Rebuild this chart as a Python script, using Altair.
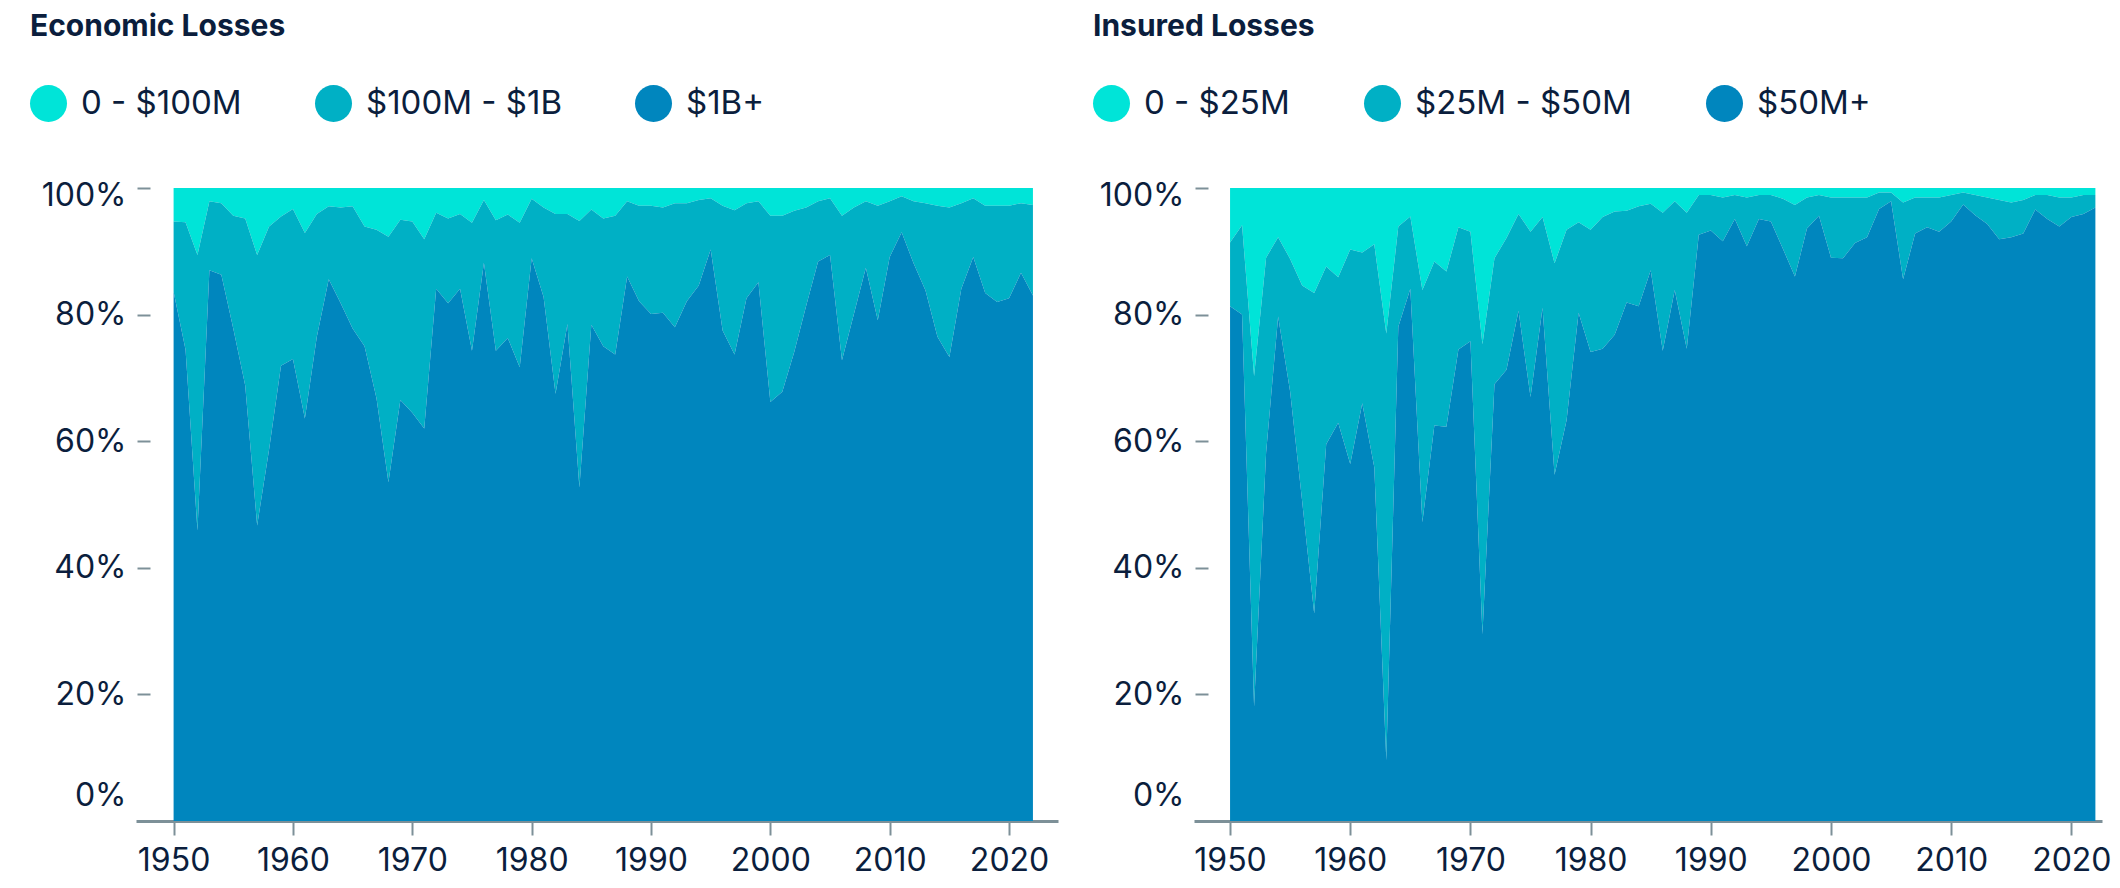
import altair as alt
import pandas as pd

years = list(range(1950, 2023))

# Economic losses: share of events (%) by loss band
econ_bands = ["0 - $100M", "$100M - $1B", "$1B+"]
econ_1b_plus = [83.6, 74.5, 45.9, 87.0, 86.3, 77.8, 68.8, 46.7, 58.7, 71.9,
                73.0, 63.6, 76.5, 85.6, 81.8, 77.8, 75.0, 66.8, 53.5, 66.5,
                64.5, 62.0, 84.1, 81.8, 84.1, 74.3, 88.2, 74.3, 76.3, 71.7,
                88.9, 82.8, 67.5, 78.5, 52.7, 78.4, 75.0, 73.7, 86.0, 82.1,
                80.1, 80.3, 78.0, 82.1, 84.6, 90.3, 77.5, 73.7, 82.6, 85.1,
                66.2, 67.8, 74.1, 81.4, 88.4, 89.4, 72.8, 80.1, 87.4, 79.1,
                89.1, 93.0, 88.1, 83.8, 76.5, 73.3, 84.1, 89.1, 83.4, 82.0,
                82.6, 86.6, 83.0]
econ_100m_1b = [11.1, 20.1, 43.5, 10.9, 11.3, 17.8, 26.4, 42.7, 35.2, 23.6,
                23.7, 29.3, 19.4, 11.5, 15.1, 19.3, 18.9, 26.6, 38.8, 28.5,
                30.2, 29.9, 12.0, 13.4, 11.8, 20.2, 9.9, 20.6, 19.5, 22.8,
                9.4, 14.1, 28.4, 17.4, 42.1, 18.2, 20.2, 21.9, 11.9, 15.1,
                17.1, 16.6, 19.6, 15.5, 13.5, 8.1, 19.7, 22.8, 15.0, 12.8,
                29.4, 27.8, 22.3, 15.5, 9.5, 9.0, 22.8, 16.8, 10.5, 18.1,
                8.8, 5.7, 9.8, 13.8, 20.7, 23.6, 13.5, 9.3, 13.8, 15.2,
                14.6, 11.0, 14.3]
econ_0_100m = [5.3, 5.4, 10.6, 2.1, 2.4, 4.4, 4.8, 10.6, 6.1, 4.5,
               3.3, 7.1, 4.1, 2.9, 3.1, 2.9, 6.1, 6.6, 7.7, 5.0,
               5.3, 8.1, 3.9, 4.8, 4.1, 5.5, 1.9, 5.1, 4.2, 5.5,
               1.7, 3.1, 4.1, 4.1, 5.2, 3.4, 4.8, 4.4, 2.1, 2.8,
               2.8, 3.1, 2.4, 2.4, 1.9, 1.6, 2.8, 3.5, 2.4, 2.1,
               4.4, 4.4, 3.6, 3.1, 2.1, 1.6, 4.4, 3.1, 2.1, 2.8,
               2.1, 1.3, 2.1, 2.4, 2.8, 3.1, 2.4, 1.6, 2.8, 2.8,
               2.8, 2.4, 2.7]

# Insured losses: share of events (%) by loss band
ins_bands = ["0 - $25M", "$25M - $50M", "$50M+"]
ins_50m_plus = [81.3, 80.0, 18.1, 58.2, 79.7, 67.8, 50.5, 32.8, 59.5, 62.9,
                56.4, 66.0, 55.9, 9.6, 78.1, 84.1, 47.2, 62.5, 62.3, 74.5,
                75.8, 29.5, 69.0, 71.3, 80.6, 67.0, 81.1, 54.7, 63.3, 80.3,
                74.1, 74.6, 76.8, 81.9, 81.3, 87.0, 74.3, 83.9, 74.6, 92.6,
                93.3, 91.6, 95.1, 90.8, 95.1, 94.7, 90.4, 86.0, 93.6, 95.6,
                89.0, 88.9, 91.3, 92.2, 96.7, 97.9, 85.6, 92.8, 93.8, 93.1,
                94.7, 97.4, 95.7, 94.3, 91.9, 92.2, 92.8, 96.6, 95.1, 93.9,
                95.4, 95.9, 96.9]
ins_25m_50m = [10.1, 14.1, 52.2, 30.8, 12.5, 21.0, 34.1, 50.6, 28.1, 23.0,
               33.9, 23.8, 35.2, 67.4, 15.8, 11.4, 36.7, 25.9, 24.5, 19.3,
               17.3, 45.8, 19.9, 20.8, 15.3, 26.1, 14.3, 33.4, 30.1, 14.3,
               19.3, 20.8, 19.5, 14.5, 15.8, 10.5, 21.8, 14.0, 21.5, 6.3,
               5.6, 6.9, 3.8, 7.7, 3.8, 4.2, 7.9, 11.3, 4.9, 3.3,
               9.5, 9.6, 7.2, 6.3, 2.6, 1.4, 12.1, 5.7, 4.7, 5.4,
               4.2, 1.9, 3.2, 4.2, 6.2, 5.5, 5.3, 2.3, 3.8, 4.6,
               3.1, 3.0, 2.0]
ins_0_25m = [8.6, 5.9, 29.7, 11.0, 7.8, 11.2, 15.4, 16.6, 12.4, 14.1,
             9.7, 10.2, 8.9, 23.0, 6.1, 4.5, 16.1, 11.6, 13.2, 6.2,
             6.9, 24.7, 11.1, 7.9, 4.1, 6.9, 4.6, 11.9, 6.6, 5.4,
             6.6, 4.6, 3.7, 3.6, 2.9, 2.5, 3.9, 2.1, 3.9, 1.1,
             1.1, 1.5, 1.1, 1.5, 1.1, 1.1, 1.7, 2.7, 1.5, 1.1,
             1.5, 1.5, 1.5, 1.5, 0.7, 0.7, 2.3, 1.5, 1.5, 1.5,
             1.1, 0.7, 1.1, 1.5, 1.9, 2.3, 1.9, 1.1, 1.1, 1.5,
             1.5, 1.1, 1.1]

colors = ["#00E4D8", "#00B0C5", "#0086BE"]
year_ticks = [1950, 1960, 1970, 1980, 1990, 2000, 2010, 2020]
pct_ticks = [0, 0.2, 0.4, 0.6, 0.8, 1.0]

FONT = "Inter"
INK = "#0B1E3D"
AXIS_GREY = "#7D9098"


def make_df(bands, small, mid, big):
    rows = []
    for i, yr in enumerate(years):
        rows.append({"year": yr, "band": bands[0], "share": small[i], "order": 2})
        rows.append({"year": yr, "band": bands[1], "share": mid[i], "order": 1})
        rows.append({"year": yr, "band": bands[2], "share": big[i], "order": 0})
    return pd.DataFrame(rows)


def panel(df, bands, title, width, xdomain, legend_x, col_pad):
    return alt.Chart(df).mark_area(interpolate="linear", opacity=1).encode(
        x=alt.X("year:Q",
                scale=alt.Scale(domain=xdomain, nice=False, zero=False),
                axis=alt.Axis(values=year_ticks, format="d", title=None, grid=False,
                              domainColor=AXIS_GREY, domainWidth=3,
                              tickColor=AXIS_GREY, tickWidth=2, tickSize=14,
                              labelFont=FONT, labelFontSize=32, labelColor=INK,
                              labelPadding=10, labelFlush=False)),
        y=alt.Y("share:Q", stack="normalize",
                scale=alt.Scale(domain=[0, 1], nice=False),
                axis=alt.Axis(values=pct_ticks, format=".0%", title=None, grid=False,
                              domain=False, tickColor=AXIS_GREY, tickWidth=2,
                              tickSize=13, offset=-14,
                              labelFont=FONT, labelFontSize=32, labelColor=INK,
                              labelPadding=11,
                              labelOffset={"condition": [
                                  {"test": "datum.value === 0", "value": -26},
                                  {"test": "datum.value === 1", "value": 7}],
                                  "value": 0})),
        color=alt.Color("band:N",
                        scale=alt.Scale(domain=bands, range=colors),
                        legend=alt.Legend(orient="none", legendX=legend_x, legendY=-103,
                                          direction="horizontal", title=None,
                                          symbolType="circle", symbolSize=1369,
                                          symbolStrokeWidth=0, symbolOpacity=1,
                                          labelFont=FONT, labelFontSize=33,
                                          labelColor=INK, labelOffset=14,
                                          labelLimit=600,
                                          columnPadding=col_pad)),
        order=alt.Order("order:Q", sort="ascending"),
    ).properties(
        width=width, height=633,
        title=alt.TitleParams(title, anchor="start", font=FONT, fontSize=30,
                              fontWeight="bold", color=INK, offset=43),
    )


left = panel(make_df(econ_bands, econ_0_100m, econ_100m_1b, econ_1b_plus),
             econ_bands, "Economic Losses", 922, [1946.85, 2024.1], -106, 73)
right = panel(make_df(ins_bands, ins_0_25m, ins_25m_50m, ins_50m_plus),
              ins_bands, "Insured Losses", 908, [1947.0, 2022.55], -101, 74)

chart = alt.hconcat(left, right, spacing=35).resolve_scale(
    color="independent"
).configure_view(stroke=None).properties(
    padding={"left": 22, "top": 4, "right": 0, "bottom": 2}
)

chart.save("out.html", embed_options={"renderer": "svg", "actions": False})
